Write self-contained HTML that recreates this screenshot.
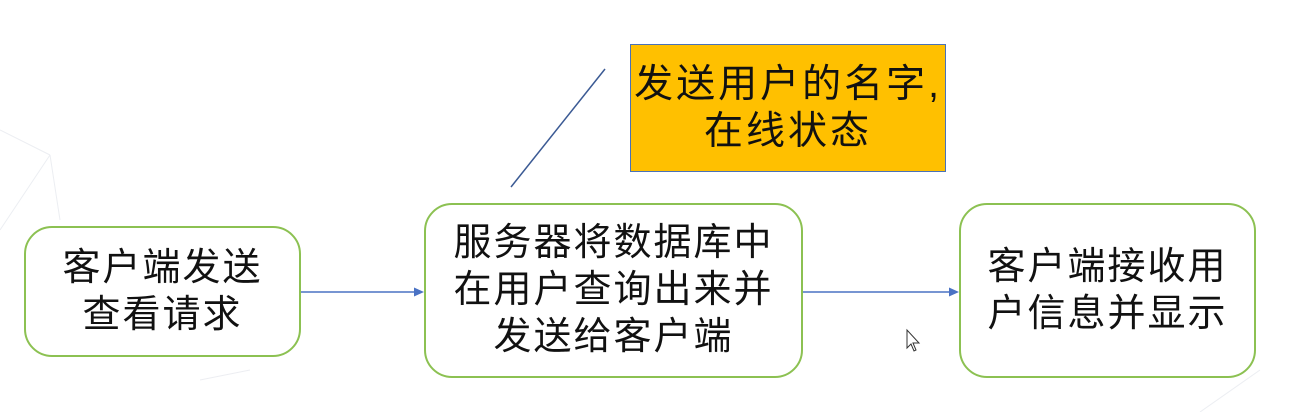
<!DOCTYPE html>
<html><head><meta charset="utf-8"><style>
html,body{margin:0;padding:0;background:#fff;}
body{width:1293px;height:412px;position:relative;overflow:hidden;font-family:"Liberation Sans","Noto Sans CJK SC",sans-serif;}
.box{position:absolute;box-sizing:border-box;border:2px solid #8cc152;border-radius:28px;background:#fff;display:flex;align-items:center;justify-content:center;text-align:center;font-size:38px;letter-spacing:2px;line-height:47px;color:#111;}
.y{position:absolute;box-sizing:border-box;left:630px;top:44px;width:316px;height:128px;background:#ffc000;border:1.5px solid #4a72b8;display:flex;align-items:center;justify-content:center;text-align:center;font-size:39px;letter-spacing:3px;line-height:47px;color:#111;}
</style></head><body>
<svg width="1293" height="412" style="position:absolute;left:0;top:0">
<g stroke="#eceef2" stroke-width="1" fill="none">
<line x1="0" y1="130" x2="50" y2="155"/><line x1="50" y1="155" x2="0" y2="230"/><line x1="50" y1="155" x2="60" y2="220"/>
<line x1="200" y1="380" x2="250" y2="370"/><line x1="1200" y1="412" x2="1260" y2="370"/>
</g>
<line x1="511" y1="187" x2="605" y2="69" stroke="#3b5a94" stroke-width="1.5"/>
<line x1="301" y1="292" x2="416" y2="292" stroke="#4a72c4" stroke-width="1.5"/>
<polygon points="424,292 414,287.5 414,296.5" fill="#4a72c4"/>
<line x1="803" y1="292" x2="951" y2="292" stroke="#4a72c4" stroke-width="1.5"/>
<polygon points="959,292 949,287.5 949,296.5" fill="#4a72c4"/>
<polygon points="907,330 907,348 911,344 914,351 916,350 913,343 919,343" fill="#fff" stroke="#333" stroke-width="1"/>
</svg>
<div class="box" style="left:24px;top:226px;width:277px;height:131px;">客户端发送<br>查看请求</div>
<div class="box" style="left:424px;top:203px;width:379px;height:175px;">服务器将数据库中<br>在用户查询出来并<br>发送给客户端</div>
<div class="box" style="left:959px;top:203px;width:297px;height:175px;">客户端接收用<br>户信息并显示</div>
<div class="y">发送用户的名字,<br>在线状态</div>
</body></html>
